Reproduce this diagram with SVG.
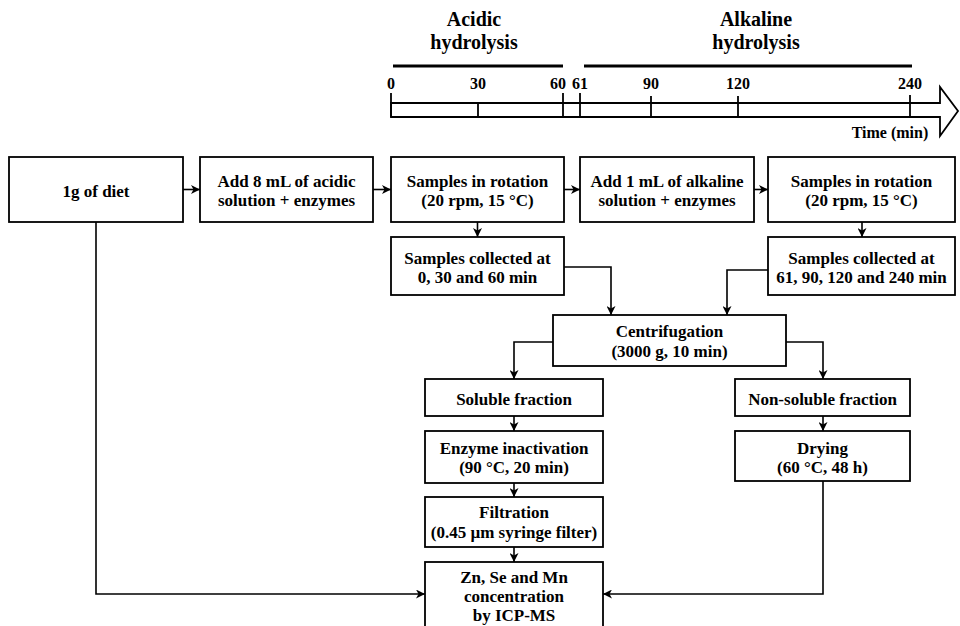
<svg xmlns="http://www.w3.org/2000/svg" width="960" height="626" viewBox="0 0 960 626">
<defs>
<marker id="ah" markerWidth="10" markerHeight="9" refX="9" refY="4.5" orient="auto" markerUnits="userSpaceOnUse">
<path d="M0,0 L9,4.5 L0,9 L2.5,4.5 Z" fill="#000"/>
</marker>
<style>
.box{fill:#fff;stroke:#000;stroke-width:1.8}
.t{font-family:"Liberation Serif","Times New Roman",serif;font-weight:bold;font-size:17px;text-anchor:middle;fill:#000}
.h{font-size:20px}
.n{font-size:16px}
.c{fill:none;stroke:#000;stroke-width:1.6;marker-end:url(#ah)}
.ln{fill:none;stroke:#000;stroke-width:1.8}
</style>
</defs>
<rect width="960" height="626" fill="#fff"/>

<g id="timeline">
<text class="t h" x="474" y="26">Acidic</text>
<text class="t h" x="474" y="49">hydrolysis</text>
<text class="t h" x="756" y="26">Alkaline</text>
<text class="t h" x="756" y="49">hydrolysis</text>
<line x1="393" y1="66" x2="563" y2="66" stroke="#000" stroke-width="3"/>
<line x1="584" y1="66" x2="912" y2="66" stroke="#000" stroke-width="3"/>
<path class="ln" d="M391,103 L940,103 L940,87 L958,111 L940,136 L940,117 L391,117 Z" stroke-linejoin="miter"/>
<g class="ln">
<line x1="391" y1="93" x2="391" y2="117"/>
<line x1="478" y1="103" x2="478" y2="117"/>
<line x1="563" y1="93" x2="563" y2="117"/>
<line x1="580" y1="93" x2="580" y2="117"/>
<line x1="651" y1="96" x2="651" y2="117"/>
<line x1="738" y1="96" x2="738" y2="117"/>
<line x1="910" y1="95" x2="910" y2="117"/>
</g>
<text class="t n" x="391" y="89">0</text>
<text class="t n" x="478" y="89">30</text>
<text class="t n" x="558" y="89">60</text>
<text class="t n" x="580" y="89">61</text>
<text class="t n" x="651" y="89">90</text>
<text class="t n" x="738" y="89">120</text>
<text class="t n" x="910" y="89">240</text>
<text class="t n" x="890" y="138">Time (min)</text>
</g>

<g id="diet"><rect class="box" x="9" y="157" width="174" height="65"/><text class="t" x="96" y="197">1g of diet</text></g>
<g id="acid"><rect class="box" x="200" y="157" width="173" height="65"/><text class="t" x="286.5" y="187">Add 8 mL of acidic</text><text class="t" x="286.5" y="206">solution + enzymes</text></g>
<g id="rot1"><rect class="box" x="391" y="157" width="173" height="65"/><text class="t" x="477.5" y="187">Samples in rotation</text><text class="t" x="477.5" y="206">(20 rpm, 15 °C)</text></g>
<g id="alk"><rect class="box" x="580" y="157" width="174" height="65"/><text class="t" x="667" y="187">Add 1 mL of alkaline</text><text class="t" x="667" y="206">solution + enzymes</text></g>
<g id="rot2"><rect class="box" x="768" y="157" width="187" height="65"/><text class="t" x="861.5" y="187">Samples in rotation</text><text class="t" x="861.5" y="206">(20 rpm, 15 °C)</text></g>
<g id="col1"><rect class="box" x="391" y="237" width="173" height="58"/><text class="t" x="477.5" y="264">Samples collected at</text><text class="t" x="477.5" y="283">0, 30 and 60 min</text></g>
<g id="col2"><rect class="box" x="768" y="237" width="187" height="58"/><text class="t" x="861.5" y="264">Samples collected at</text><text class="t" x="861.5" y="283">61, 90, 120 and 240 min</text></g>
<g id="centri"><rect class="box" x="553" y="315" width="233" height="51"/><text class="t" x="669.5" y="337">Centrifugation</text><text class="t" x="669.5" y="357">(3000 g, 10 min)</text></g>
<g id="soluble"><rect class="box" x="425" y="379" width="178" height="37"/><text class="t" x="514" y="405">Soluble fraction</text></g>
<g id="nonsoluble"><rect class="box" x="735" y="379" width="175" height="37"/><text class="t" x="822.5" y="405">Non-soluble fraction</text></g>
<g id="enzyme"><rect class="box" x="425" y="431" width="178" height="52"/><text class="t" x="514" y="454">Enzyme inactivation</text><text class="t" x="514" y="473">(90 °C, 20 min)</text></g>
<g id="drying"><rect class="box" x="735" y="431" width="175" height="50"/><text class="t" x="822.5" y="454">Drying</text><text class="t" x="822.5" y="473">(60 °C, 48 h)</text></g>
<g id="filtration"><rect class="box" x="425" y="497" width="178" height="50"/><text class="t" x="514" y="518">Filtration</text><text class="t" x="514" y="538">(0.45 µm syringe filter)</text></g>
<g id="icpms"><rect class="box" x="425" y="562" width="178" height="70"/><text class="t" x="514" y="583">Zn, Se and Mn</text><text class="t" x="514" y="602">concentration</text><text class="t" x="514" y="621">by ICP-MS</text></g>

<g id="connectors">
<path class="c" d="M183,189.5 L200,189.5"/>
<path class="c" d="M373,189.5 L391,189.5"/>
<path class="c" d="M564,189.5 L580,189.5"/>
<path class="c" d="M754,189.5 L768,189.5"/>
<path class="c" d="M477.5,222 L477.5,237"/>
<path class="c" d="M862,222 L862,237"/>
<path class="c" d="M564,267 L611,267 L611,315"/>
<path class="c" d="M768,270 L727,270 L727,315"/>
<path class="c" d="M553,342 L514,342 L514,379"/>
<path class="c" d="M786,342 L823,342 L823,379"/>
<path class="c" d="M514,416 L514,431"/>
<path class="c" d="M823,416 L823,431"/>
<path class="c" d="M514,483 L514,497"/>
<path class="c" d="M514,547 L514,562"/>
<path class="c" d="M96,222 L96,594 L425,594"/>
<path class="c" d="M823,481 L823,594 L603,594"/>
</g>
</svg>
